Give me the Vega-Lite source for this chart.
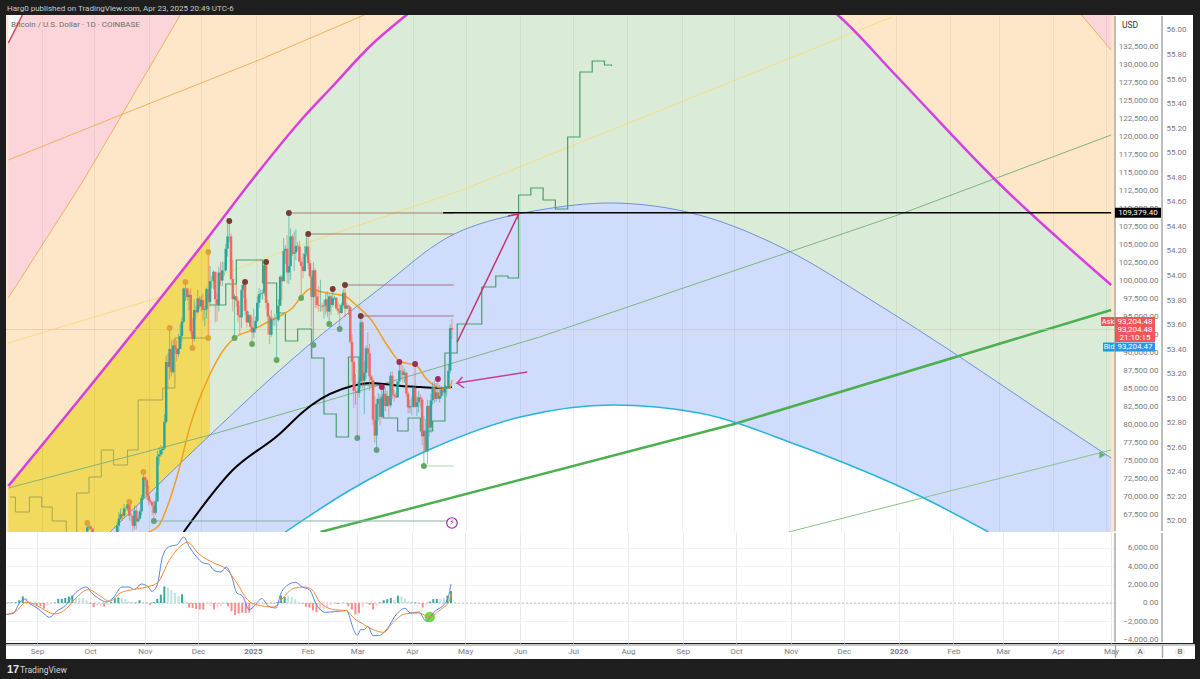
{
"$schema":"https://vega.github.io/schema/vega-lite/v6.json",
"background":"#1e1e1e",
"padding":{"left":5,"right":8,"top":0,"bottom":0},
"spacing":0,
"config":{"view":{"stroke":null},"text":{"font":"Roboto"},"axis":{"labelFont":"Roboto"}},
"datasets":{
"redL":[{"d":"2024-08-13","p":97573},{"d":"2024-09-25","p":113928},{"d":"2024-11-19","p":136797}],
"wedge":[{"d":"2024-08-13","p":132916},{"d":"2024-08-21","p":136797}],
"redR":[{"d":"2026-04-17","p":136797},{"d":"2026-05-04","p":131946}],
"magenta":[{"d":"2024-08-13","p":71516},{"d":"2024-10-07","p":87871},{"d":"2024-12-06","p":106305},{"d":"2024-12-30","p":113928},{"d":"2025-01-28","p":122521},{"d":"2025-02-13","p":126679},{"d":"2025-03-08","p":132639},{"d":"2025-03-28","p":136797},{"d":"2025-04-22","p":141648},{"d":"2025-05-20","p":145390},{"d":"2025-06-23","p":147885},{"d":"2025-07-27","p":148855},{"d":"2025-08-30","p":147885},{"d":"2025-10-03","p":145113},{"d":"2025-10-31","p":141648},{"d":"2025-11-29","p":136797},{"d":"2026-01-01","p":128481},{"d":"2026-02-27","p":113928},{"d":"2026-05-04","p":99375}],
"blue":[{"d":"2024-10-10","p":65140},{"d":"2024-12-06","p":78585},{"d":"2025-01-28","p":90366},{"d":"2025-03-14","p":99097},{"d":"2025-04-20","p":105889},{"d":"2025-05-28","p":109077},{"d":"2025-06-12","p":109770},{"d":"2025-07-22","p":110740},{"d":"2025-09-11","p":109077},{"d":"2025-10-31","p":104226},{"d":"2025-12-18","p":97296},{"d":"2026-02-05","p":89673},{"d":"2026-03-22","p":82327},{"d":"2026-05-04","p":75397}],
"cyan":[{"d":"2025-01-18","p":65140},{"d":"2025-02-24","p":70962},{"d":"2025-04-07","p":76228},{"d":"2025-06-01","p":81080},{"d":"2025-07-24","p":82743},{"d":"2025-09-11","p":81634},{"d":"2025-11-06","p":77199},{"d":"2026-01-16","p":69991},{"d":"2026-02-23","p":65140}],
"yellowZone":[{"d":"2024-08-13","p":71516,"q":65140},{"d":"2024-10-10","p":89118,"q":65140},{"d":"2024-12-06","p":106305,"q":78585}],
"orangeLine":[{"d":"2024-08-13","p":116700},{"d":"2024-10-16","p":122937},{"d":"2025-01-03","p":130560},{"d":"2025-03-04","p":136797}],
"yellowLine":[{"d":"2024-08-13","p":91336},{"d":"2024-11-08","p":97711},{"d":"2025-01-30","p":105196},{"d":"2025-04-29","p":112542},{"d":"2025-12-30","p":136519}],
"greenThin":[{"d":"2024-08-13","p":71239},{"d":"2024-12-06","p":78585},{"d":"2025-01-28","p":82327},{"d":"2025-06-12","p":92167},{"d":"2026-01-04","p":109215},{"d":"2026-05-04","p":120165}],
"greenThick":[{"d":"2025-02-07","p":65140},{"d":"2025-10-01","p":80109},{"d":"2026-05-04","p":95910}],
"greenLow":[{"d":"2025-11-01","p":65140},{"d":"2026-05-04","p":76506}],
"stepA":[{"d":"2024-08-14","p":69991},{"d":"2024-08-17","p":67913},{"d":"2024-08-25","p":69991},{"d":"2024-09-01","p":68605},{"d":"2024-09-07","p":66665},{"d":"2024-09-15","p":64725},{"d":"2024-09-21","p":70546},{"d":"2024-09-28","p":72763},{"d":"2024-10-05","p":76506},{"d":"2024-10-12","p":74427},{"d":"2024-10-20","p":76506},{"d":"2024-10-26","p":83436},{"d":"2024-11-09","p":85099},{"d":"2024-11-16","p":92029},{"d":"2024-12-06","p":92029}],
"stepB":[{"d":"2024-12-06","p":96603},{"d":"2024-12-15","p":99513},{"d":"2024-12-21","p":102840},{"d":"2025-01-05","p":99652},{"d":"2025-01-13","p":95494},{"d":"2025-01-18","p":91613},{"d":"2025-01-25","p":93277},{"d":"2025-02-02","p":89257},{"d":"2025-02-09","p":81495},{"d":"2025-02-16","p":78307},{"d":"2025-02-23","p":89396},{"d":"2025-03-01","p":85515},{"d":"2025-03-15","p":80941},{"d":"2025-03-23","p":79139},{"d":"2025-03-29","p":80941},{"d":"2025-04-05","p":79139},{"d":"2025-04-12","p":80525},{"d":"2025-04-19","p":89950},{"d":"2025-04-26","p":93971},{"d":"2025-05-10","p":99097},{"d":"2025-05-18","p":100622},{"d":"2025-05-25","p":100345},{"d":"2025-05-31","p":111849},{"d":"2025-06-07","p":112819},{"d":"2025-06-14","p":111156},{"d":"2025-06-21","p":109909},{"d":"2025-06-28","p":119887},{"d":"2025-07-05","p":128896},{"d":"2025-07-12","p":130421},{"d":"2025-07-19","p":129867},{"d":"2025-07-23","p":129728}],
"ma1":[{"d":"2024-11-01","p":65140},{"d":"2024-11-07","p":66111},{"d":"2024-11-12","p":68883},{"d":"2024-11-19","p":74427},{"d":"2024-11-24","p":79278},{"d":"2024-12-05","p":86485},{"d":"2024-12-15","p":90781},{"d":"2024-12-20","p":92029},{"d":"2024-12-30","p":93137},{"d":"2025-01-08","p":94246},{"d":"2025-01-16","p":95217},{"d":"2025-01-22","p":96187},{"d":"2025-01-27","p":97711},{"d":"2025-02-01","p":98820},{"d":"2025-02-08","p":98404},{"d":"2025-02-22","p":97711},{"d":"2025-02-26","p":96880},{"d":"2025-03-08","p":94524},{"d":"2025-03-17","p":91059},{"d":"2025-03-24","p":88842},{"d":"2025-04-03","p":88148},{"d":"2025-04-08","p":86485},{"d":"2025-04-17","p":85099},{"d":"2025-04-22","p":85099},{"d":"2025-04-23","p":86208}],
"ma2":[{"d":"2024-11-21","p":65140},{"d":"2024-12-19","p":73734},{"d":"2025-01-14","p":78585},{"d":"2025-01-28","p":81772},{"d":"2025-02-02","p":82743},{"d":"2025-02-25","p":85376},{"d":"2025-03-08","p":85792},{"d":"2025-03-25","p":85376},{"d":"2025-04-05","p":85237},{"d":"2025-04-17","p":85099},{"d":"2025-04-23","p":85237}],
"levels":[{"d":"2025-01-20","e":"2025-04-24","p":109354,"k":"brown"},{"d":"2025-01-31","e":"2025-04-24","p":106443,"k":"brown"},{"d":"2025-02-21","e":"2025-04-24","p":99375,"k":"mauve"},{"d":"2025-03-02","e":"2025-04-24","p":95078,"k":"mauve"},{"d":"2025-04-07","e":"2025-04-24","p":74288,"k":"mint"},{"d":"2024-11-04","e":"2025-04-24","p":66665,"k":"teal"}],
"pivots":[{"d":"2024-09-27","p":66389,"k":"gold"},{"d":"2024-10-21","p":69298,"k":"gold"},{"d":"2024-10-29","p":73456,"k":"gold"},{"d":"2024-11-04","p":66665,"k":"sage"},{"d":"2024-11-13","p":93415,"k":"gold"},{"d":"2024-11-22","p":99790,"k":"gold"},{"d":"2024-11-26","p":90643,"k":"gold"},{"d":"2024-12-05","p":103948,"k":"gold"},{"d":"2024-12-05","p":92029,"k":"gold"},{"d":"2024-12-17","p":108245,"k":"maroon"},{"d":"2024-12-20","p":92029,"k":"green"},{"d":"2024-12-26","p":99790,"k":"maroon"},{"d":"2024-12-30","p":91197,"k":"green"},{"d":"2025-01-07","p":102562,"k":"maroon"},{"d":"2025-01-13","p":88980,"k":"green"},{"d":"2025-01-20","p":109354,"k":"maroon"},{"d":"2025-01-27","p":97573,"k":"green"},{"d":"2025-01-31","p":106443,"k":"maroon"},{"d":"2025-02-03","p":91059,"k":"sage"},{"d":"2025-02-14","p":98820,"k":"maroon"},{"d":"2025-02-12","p":93970,"k":"green"},{"d":"2025-02-18","p":93277,"k":"sage"},{"d":"2025-02-21","p":99375,"k":"maroon"},{"d":"2025-03-02","p":95078,"k":"maroon"},{"d":"2025-02-28","p":78169,"k":"sage"},{"d":"2025-03-11","p":76506,"k":"sage"},{"d":"2025-03-24","p":88703,"k":"rose"},{"d":"2025-04-02","p":88425,"k":"rose"},{"d":"2025-03-14","p":85241,"k":"rose"},{"d":"2025-04-15","p":86347,"k":"rose"},{"d":"2025-04-07","p":74288,"k":"green"}],
"arrows":[{"d":"2025-04-26","p":91474,"g":"a","i":0},{"d":"2025-05-31","p":109215,"g":"a","i":1},{"d":"2025-05-25","p":108938,"g":"a","i":2},{"d":"2025-05-31","p":109215,"g":"a","i":3},{"d":"2025-05-30","p":108522,"g":"a","i":4},{"d":"2025-06-05","p":87316,"g":"b","i":0},{"d":"2025-04-26","p":85792,"g":"b","i":1},{"d":"2025-04-29","p":86624,"g":"b","i":2},{"d":"2025-04-26","p":85792,"g":"b","i":3},{"d":"2025-04-30","p":85099,"g":"b","i":4}],
"candles":[
{"d":"2024-09-27","o":65200,"h":66500,"l":64800,"c":65800},
{"d":"2024-09-28","o":65800,"h":66300,"l":65400,"c":65900},
{"d":"2024-09-29","o":65900,"h":66100,"l":65400,"c":65600},
{"d":"2024-09-30","o":65600,"h":65700,"l":62900,"c":63300},
{"d":"2024-10-11","o":60300,"h":63400,"l":60000,"c":62400},
{"d":"2024-10-12","o":62400,"h":63500,"l":62400,"c":63200},
{"d":"2024-10-13","o":63200,"h":63300,"l":62000,"c":62800},
{"d":"2024-10-14","o":62800,"h":66500,"l":62400,"c":66000},
{"d":"2024-10-15","o":66000,"h":67900,"l":64800,"c":67000},
{"d":"2024-10-16","o":67000,"h":68400,"l":66800,"c":67600},
{"d":"2024-10-17","o":67600,"h":67900,"l":66700,"c":67400},
{"d":"2024-10-18","o":67400,"h":69000,"l":67200,"c":68400},
{"d":"2024-10-19","o":68400,"h":68700,"l":68000,"c":68400},
{"d":"2024-10-20","o":68400,"h":69400,"l":68100,"c":69000},
{"d":"2024-10-21","o":69000,"h":69500,"l":66700,"c":67400},
{"d":"2024-10-22","o":67400,"h":67800,"l":66600,"c":67400},
{"d":"2024-10-23","o":67400,"h":67400,"l":65200,"c":66000},
{"d":"2024-10-24","o":66000,"h":68800,"l":65500,"c":68100},
{"d":"2024-10-25","o":68100,"h":68700,"l":65500,"c":66600},
{"d":"2024-10-26","o":66600,"h":67400,"l":66500,"c":67000},
{"d":"2024-10-27","o":67000,"h":68300,"l":66800,"c":68000},
{"d":"2024-10-28","o":68000,"h":70300,"l":67500,"c":69900},
{"d":"2024-10-29","o":69900,"h":73600,"l":69700,"c":72700},
{"d":"2024-10-30","o":72700,"h":72900,"l":71400,"c":72300},
{"d":"2024-10-31","o":72300,"h":72700,"l":69600,"c":70200},
{"d":"2024-11-01","o":70200,"h":71600,"l":68800,"c":69500},
{"d":"2024-11-02","o":69500,"h":69900,"l":69000,"c":69300},
{"d":"2024-11-03","o":69300,"h":69400,"l":67500,"c":68800},
{"d":"2024-11-04","o":68800,"h":69500,"l":66700,"c":67800},
{"d":"2024-11-05","o":67800,"h":70600,"l":67500,"c":69400},
{"d":"2024-11-06","o":69400,"h":76400,"l":69300,"c":75600},
{"d":"2024-11-07","o":75600,"h":76900,"l":74500,"c":75900},
{"d":"2024-11-08","o":75900,"h":77200,"l":75600,"c":76500},
{"d":"2024-11-09","o":76500,"h":76900,"l":75900,"c":76700},
{"d":"2024-11-10","o":76700,"h":81500,"l":76500,"c":80400},
{"d":"2024-11-11","o":80400,"h":89600,"l":80200,"c":88700},
{"d":"2024-11-12","o":88700,"h":89900,"l":85100,"c":88000},
{"d":"2024-11-13","o":88000,"h":93400,"l":86300,"c":90500},
{"d":"2024-11-14","o":90500,"h":91700,"l":86700,"c":87300},
{"d":"2024-11-15","o":87300,"h":91800,"l":87100,"c":91000},
{"d":"2024-11-16","o":91000,"h":91900,"l":90100,"c":90600},
{"d":"2024-11-17","o":90600,"h":91700,"l":88800,"c":89800},
{"d":"2024-11-18","o":89800,"h":92600,"l":89400,"c":90500},
{"d":"2024-11-19","o":90500,"h":93900,"l":90500,"c":92300},
{"d":"2024-11-20","o":92300,"h":94900,"l":91500,"c":94300},
{"d":"2024-11-21","o":94300,"h":99000,"l":94100,"c":98900},
{"d":"2024-11-22","o":98900,"h":99800,"l":97200,"c":98900},
{"d":"2024-11-23","o":98900,"h":98900,"l":97200,"c":97700},
{"d":"2024-11-24","o":97700,"h":98600,"l":95800,"c":98000},
{"d":"2024-11-25","o":98000,"h":98900,"l":92600,"c":93000},
{"d":"2024-11-26","o":93000,"h":94800,"l":90700,"c":91900},
{"d":"2024-11-27","o":91900,"h":97400,"l":91500,"c":95900},
{"d":"2024-11-28","o":95900,"h":96600,"l":94700,"c":95600},
{"d":"2024-11-29","o":95600,"h":98700,"l":95400,"c":97500},
{"d":"2024-11-30","o":97500,"h":97800,"l":96000,"c":96400},
{"d":"2024-12-01","o":96400,"h":97900,"l":95700,"c":97300},
{"d":"2024-12-02","o":97300,"h":98200,"l":94400,"c":95900},
{"d":"2024-12-03","o":95900,"h":96500,"l":93600,"c":96000},
{"d":"2024-12-04","o":96000,"h":99000,"l":94700,"c":98800},
{"d":"2024-12-05","o":98800,"h":103900,"l":92200,"c":97000},
{"d":"2024-12-06","o":97000,"h":102000,"l":96400,"c":99900},
{"d":"2024-12-07","o":99900,"h":100600,"l":98900,"c":99900},
{"d":"2024-12-08","o":99900,"h":101400,"l":98800,"c":101200},
{"d":"2024-12-09","o":101200,"h":101200,"l":94200,"c":97400},
{"d":"2024-12-10","o":97400,"h":98300,"l":94300,"c":96600},
{"d":"2024-12-11","o":96600,"h":101900,"l":95700,"c":101100},
{"d":"2024-12-12","o":101100,"h":102500,"l":99300,"c":100000},
{"d":"2024-12-13","o":100000,"h":102600,"l":99200,"c":101400},
{"d":"2024-12-14","o":101400,"h":102600,"l":100600,"c":101400},
{"d":"2024-12-15","o":101400,"h":105100,"l":101200,"c":104400},
{"d":"2024-12-16","o":104400,"h":107800,"l":103300,"c":106100},
{"d":"2024-12-17","o":106100,"h":108300,"l":105300,"c":106100},
{"d":"2024-12-18","o":106100,"h":106500,"l":100000,"c":100200},
{"d":"2024-12-19","o":100200,"h":102800,"l":95700,"c":97400},
{"d":"2024-12-20","o":97400,"h":98100,"l":92100,"c":97800},
{"d":"2024-12-21","o":97800,"h":99500,"l":96400,"c":97200},
{"d":"2024-12-22","o":97200,"h":97400,"l":94200,"c":95200},
{"d":"2024-12-23","o":95200,"h":96500,"l":92500,"c":94900},
{"d":"2024-12-24","o":94900,"h":99400,"l":93400,"c":98700},
{"d":"2024-12-25","o":98700,"h":99900,"l":97600,"c":99400},
{"d":"2024-12-26","o":99400,"h":99900,"l":95200,"c":95800},
{"d":"2024-12-27","o":95800,"h":97500,"l":93500,"c":94200},
{"d":"2024-12-28","o":94200,"h":95700,"l":94100,"c":95200},
{"d":"2024-12-29","o":95200,"h":95300,"l":93100,"c":93600},
{"d":"2024-12-30","o":93600,"h":94900,"l":91300,"c":92800},
{"d":"2024-12-31","o":92800,"h":96100,"l":92000,"c":93400},
{"d":"2025-01-01","o":93400,"h":95000,"l":92800,"c":94400},
{"d":"2025-01-02","o":94400,"h":97800,"l":94200,"c":96900},
{"d":"2025-01-03","o":96900,"h":98900,"l":96200,"c":98100},
{"d":"2025-01-04","o":98100,"h":98700,"l":97500,"c":98200},
{"d":"2025-01-05","o":98200,"h":98800,"l":97300,"c":98300},
{"d":"2025-01-06","o":98300,"h":102500,"l":97900,"c":102100},
{"d":"2025-01-07","o":102100,"h":102700,"l":96100,"c":96900},
{"d":"2025-01-08","o":96900,"h":97300,"l":92500,"c":95000},
{"d":"2025-01-09","o":95000,"h":95300,"l":91200,"c":92500},
{"d":"2025-01-10","o":92500,"h":95900,"l":92200,"c":94700},
{"d":"2025-01-11","o":94700,"h":95000,"l":93800,"c":94500},
{"d":"2025-01-12","o":94500,"h":95400,"l":93700,"c":94500},
{"d":"2025-01-13","o":94500,"h":95900,"l":89300,"c":94500},
{"d":"2025-01-14","o":94500,"h":97400,"l":94300,"c":96500},
{"d":"2025-01-15","o":96500,"h":100700,"l":96500,"c":100500},
{"d":"2025-01-16","o":100500,"h":100800,"l":97300,"c":99900},
{"d":"2025-01-17","o":99900,"h":105900,"l":99900,"c":104100},
{"d":"2025-01-18","o":104100,"h":104900,"l":102300,"c":104400},
{"d":"2025-01-19","o":104400,"h":106300,"l":99600,"c":101100},
{"d":"2025-01-20","o":101100,"h":109400,"l":99500,"c":102000},
{"d":"2025-01-21","o":102000,"h":107200,"l":100100,"c":106100},
{"d":"2025-01-22","o":106100,"h":106400,"l":103400,"c":103700},
{"d":"2025-01-23","o":103700,"h":106800,"l":101300,"c":103900},
{"d":"2025-01-24","o":103900,"h":107100,"l":102800,"c":104800},
{"d":"2025-01-25","o":104800,"h":105300,"l":104100,"c":104700},
{"d":"2025-01-26","o":104700,"h":105500,"l":102500,"c":102600},
{"d":"2025-01-27","o":102600,"h":103200,"l":97800,"c":102000},
{"d":"2025-01-28","o":102000,"h":103800,"l":100300,"c":101300},
{"d":"2025-01-29","o":101300,"h":104800,"l":101300,"c":103700},
{"d":"2025-01-30","o":103700,"h":106400,"l":103300,"c":104700},
{"d":"2025-01-31","o":104700,"h":106000,"l":101600,"c":102400},
{"d":"2025-02-01","o":102400,"h":102800,"l":100300,"c":100600},
{"d":"2025-02-02","o":100600,"h":101400,"l":93500,"c":97700},
{"d":"2025-02-03","o":97700,"h":102500,"l":91200,"c":101400},
{"d":"2025-02-04","o":101400,"h":101700,"l":96200,"c":97800},
{"d":"2025-02-05","o":97800,"h":98800,"l":96100,"c":96600},
{"d":"2025-02-06","o":96600,"h":99200,"l":95700,"c":96500},
{"d":"2025-02-07","o":96500,"h":100100,"l":95700,"c":96500},
{"d":"2025-02-08","o":96500,"h":96900,"l":95700,"c":96400},
{"d":"2025-02-09","o":96400,"h":97300,"l":94700,"c":96500},
{"d":"2025-02-10","o":96500,"h":98300,"l":95300,"c":97400},
{"d":"2025-02-11","o":97400,"h":98500,"l":94900,"c":95700},
{"d":"2025-02-12","o":95700,"h":98100,"l":94100,"c":97800},
{"d":"2025-02-13","o":97800,"h":98000,"l":95200,"c":96600},
{"d":"2025-02-14","o":96600,"h":99000,"l":96300,"c":97500},
{"d":"2025-02-15","o":97500,"h":97900,"l":97300,"c":97600},
{"d":"2025-02-16","o":97600,"h":97700,"l":96000,"c":96100},
{"d":"2025-02-17","o":96100,"h":97000,"l":95200,"c":95800},
{"d":"2025-02-18","o":95800,"h":96700,"l":93300,"c":95500},
{"d":"2025-02-19","o":95500,"h":96900,"l":95400,"c":96600},
{"d":"2025-02-20","o":96600,"h":98800,"l":96400,"c":98300},
{"d":"2025-02-21","o":98300,"h":99400,"l":94900,"c":96100},
{"d":"2025-02-22","o":96100,"h":96900,"l":96000,"c":96500},
{"d":"2025-02-23","o":96500,"h":96700,"l":95200,"c":96300},
{"d":"2025-02-24","o":96300,"h":96500,"l":91200,"c":91500},
{"d":"2025-02-25","o":91500,"h":92500,"l":86100,"c":88700},
{"d":"2025-02-26","o":88700,"h":89400,"l":82300,"c":84700},
{"d":"2025-02-27","o":84700,"h":87000,"l":82800,"c":84700},
{"d":"2025-02-28","o":84700,"h":85100,"l":78200,"c":84400},
{"d":"2025-03-01","o":84400,"h":86600,"l":83800,"c":86000},
{"d":"2025-03-02","o":86000,"h":95000,"l":85100,"c":94200},
{"d":"2025-03-03","o":94200,"h":94400,"l":85000,"c":86100},
{"d":"2025-03-04","o":86100,"h":88900,"l":81500,"c":87200},
{"d":"2025-03-05","o":87200,"h":91000,"l":86400,"c":90600},
{"d":"2025-03-06","o":90600,"h":92800,"l":87800,"c":89900},
{"d":"2025-03-07","o":89900,"h":91200,"l":84700,"c":86700},
{"d":"2025-03-08","o":86700,"h":86900,"l":85200,"c":86200},
{"d":"2025-03-09","o":86200,"h":86500,"l":80000,"c":80700},
{"d":"2025-03-10","o":80700,"h":84000,"l":77500,"c":78500},
{"d":"2025-03-11","o":78500,"h":83600,"l":76600,"c":82900},
{"d":"2025-03-12","o":82900,"h":84400,"l":80600,"c":83600},
{"d":"2025-03-13","o":83600,"h":84300,"l":79900,"c":81100},
{"d":"2025-03-14","o":81100,"h":85300,"l":80800,"c":83900},
{"d":"2025-03-15","o":83900,"h":84700,"l":83600,"c":84300},
{"d":"2025-03-16","o":84300,"h":85100,"l":81900,"c":82600},
{"d":"2025-03-17","o":82600,"h":84700,"l":82500,"c":84000},
{"d":"2025-03-18","o":84000,"h":84000,"l":81100,"c":82700},
{"d":"2025-03-19","o":82700,"h":87400,"l":82400,"c":86800},
{"d":"2025-03-20","o":86800,"h":87400,"l":83600,"c":84200},
{"d":"2025-03-21","o":84200,"h":84800,"l":83200,"c":84000},
{"d":"2025-03-22","o":84000,"h":84500,"l":83700,"c":83800},
{"d":"2025-03-23","o":83800,"h":86000,"l":83800,"c":86000},
{"d":"2025-03-24","o":86000,"h":88700,"l":85600,"c":87500},
{"d":"2025-03-25","o":87500,"h":88500,"l":86300,"c":87400},
{"d":"2025-03-26","o":87400,"h":88200,"l":85900,"c":86900},
{"d":"2025-03-27","o":86900,"h":87800,"l":85800,"c":87200},
{"d":"2025-03-28","o":87200,"h":87400,"l":83900,"c":84300},
{"d":"2025-03-29","o":84300,"h":84600,"l":81600,"c":82400},
{"d":"2025-03-30","o":82400,"h":83500,"l":81600,"c":82600},
{"d":"2025-03-31","o":82600,"h":83900,"l":81300,"c":82500},
{"d":"2025-04-01","o":82500,"h":85500,"l":82400,"c":85100},
{"d":"2025-04-02","o":85100,"h":88500,"l":82300,"c":82500},
{"d":"2025-04-03","o":82500,"h":83900,"l":81200,"c":83100},
{"d":"2025-04-04","o":83100,"h":84700,"l":81700,"c":83800},
{"d":"2025-04-05","o":83800,"h":84200,"l":82400,"c":83500},
{"d":"2025-04-06","o":83500,"h":83800,"l":77200,"c":78400},
{"d":"2025-04-07","o":78400,"h":81200,"l":74400,"c":79100},
{"d":"2025-04-08","o":79100,"h":80800,"l":76200,"c":76300},
{"d":"2025-04-09","o":76300,"h":83500,"l":74600,"c":82600},
{"d":"2025-04-10","o":82600,"h":82700,"l":78400,"c":79600},
{"d":"2025-04-11","o":79600,"h":84300,"l":78900,"c":83400},
{"d":"2025-04-12","o":83400,"h":85900,"l":82800,"c":85200},
{"d":"2025-04-13","o":85200,"h":86100,"l":83000,"c":83600},
{"d":"2025-04-14","o":83600,"h":85800,"l":83200,"c":84500},
{"d":"2025-04-15","o":84500,"h":86500,"l":83600,"c":83600},
{"d":"2025-04-16","o":83600,"h":85500,"l":83100,"c":84000},
{"d":"2025-04-17","o":84000,"h":85400,"l":83700,"c":84900},
{"d":"2025-04-18","o":84900,"h":85100,"l":84100,"c":84500},
{"d":"2025-04-19","o":84500,"h":85700,"l":84400,"c":85100},
{"d":"2025-04-20","o":85100,"h":85300,"l":83900,"c":85200},
{"d":"2025-04-21","o":85200,"h":88500,"l":85100,"c":87500},
{"d":"2025-04-22","o":87500,"h":93900,"l":87100,"c":93400},
{"d":"2025-04-23","o":93400,"h":94700,"l":91900,"c":93200}
],
"hist":[
{"d":"2024-08-16","v":50,"k":"a"},{"d":"2024-08-18","v":50,"k":"a"},{"d":"2024-08-20","v":70,"k":"a"},{"d":"2024-08-22","v":300,"k":"a"},{"d":"2024-08-24","v":720,"k":"a"},{"d":"2024-08-26","v":500,"k":"b"},{"d":"2024-08-28","v":150,"k":"b"},{"d":"2024-08-30","v":-100,"k":"c"},{"d":"2024-09-01","v":-250,"k":"c"},{"d":"2024-09-03","v":-350,"k":"c"},{"d":"2024-09-05","v":-600,"k":"c"},{"d":"2024-09-07","v":-300,"k":"d"},{"d":"2024-09-09","v":-50,"k":"d"},{"d":"2024-09-11","v":50,"k":"a"},{"d":"2024-09-13","v":450,"k":"a"},{"d":"2024-09-15","v":450,"k":"a"},{"d":"2024-09-17","v":550,"k":"a"},{"d":"2024-09-19","v":700,"k":"a"},{"d":"2024-09-21","v":800,"k":"a"},{"d":"2024-09-23","v":550,"k":"b"},{"d":"2024-09-25","v":550,"k":"b"},{"d":"2024-09-27","v":520,"k":"b"},{"d":"2024-09-29","v":300,"k":"b"},{"d":"2024-10-01","v":-100,"k":"c"},{"d":"2024-10-03","v":-450,"k":"c"},{"d":"2024-10-05","v":-250,"k":"d"},{"d":"2024-10-07","v":-250,"k":"d"},{"d":"2024-10-09","v":-400,"k":"c"},{"d":"2024-10-11","v":-200,"k":"d"},{"d":"2024-10-13","v":100,"k":"a"},{"d":"2024-10-15","v":500,"k":"a"},{"d":"2024-10-17","v":600,"k":"a"},{"d":"2024-10-19","v":550,"k":"b"},{"d":"2024-10-21","v":450,"k":"b"},{"d":"2024-10-23","v":150,"k":"b"},{"d":"2024-10-25","v":40,"k":"a"},{"d":"2024-10-27","v":50,"k":"a"},{"d":"2024-10-29","v":300,"k":"a"},{"d":"2024-10-31","v":80,"k":"b"},{"d":"2024-11-02","v":-50,"k":"c"},{"d":"2024-11-04","v":-200,"k":"c"},{"d":"2024-11-06","v":100,"k":"a"},{"d":"2024-11-08","v":450,"k":"a"},{"d":"2024-11-10","v":900,"k":"a"},{"d":"2024-11-12","v":1800,"k":"a"},{"d":"2024-11-14","v":1700,"k":"b"},{"d":"2024-11-16","v":1400,"k":"b"},{"d":"2024-11-18","v":1100,"k":"b"},{"d":"2024-11-20","v":800,"k":"b"},{"d":"2024-11-22","v":950,"k":"a"},{"d":"2024-11-24","v":200,"k":"b"},{"d":"2024-11-26","v":-500,"k":"c"},{"d":"2024-11-28","v":-550,"k":"c"},{"d":"2024-11-30","v":-650,"k":"c"},{"d":"2024-12-02","v":-700,"k":"c"},{"d":"2024-12-04","v":-700,"k":"c"},{"d":"2024-12-06","v":-150,"k":"d"},{"d":"2024-12-08","v":-300,"k":"d"},{"d":"2024-12-10","v":-700,"k":"c"},{"d":"2024-12-12","v":-450,"k":"d"},{"d":"2024-12-14","v":-350,"k":"d"},{"d":"2024-12-16","v":-100,"k":"d"},{"d":"2024-12-18","v":-350,"k":"c"},{"d":"2024-12-20","v":-900,"k":"c"},{"d":"2024-12-22","v":-1300,"k":"c"},{"d":"2024-12-24","v":-1150,"k":"c"},{"d":"2024-12-26","v":-1050,"k":"c"},{"d":"2024-12-28","v":-1100,"k":"c"},{"d":"2024-12-30","v":-1050,"k":"c"},{"d":"2025-01-01","v":-700,"k":"d"},{"d":"2025-01-03","v":-400,"k":"d"},{"d":"2025-01-05","v":-100,"k":"d"},{"d":"2025-01-07","v":-50,"k":"d"},{"d":"2025-01-09","v":-60,"k":"c"},{"d":"2025-01-11","v":-60,"k":"c"},{"d":"2025-01-13","v":-80,"k":"c"},{"d":"2025-01-15","v":100,"k":"a"},{"d":"2025-01-17","v":800,"k":"a"},{"d":"2025-01-19","v":650,"k":"a"},{"d":"2025-01-21","v":800,"k":"b"},{"d":"2025-01-23","v":650,"k":"b"},{"d":"2025-01-25","v":400,"k":"b"},{"d":"2025-01-27","v":100,"k":"b"},{"d":"2025-01-29","v":-50,"k":"c"},{"d":"2025-01-31","v":-400,"k":"c"},{"d":"2025-02-02","v":-500,"k":"c"},{"d":"2025-02-04","v":-800,"k":"c"},{"d":"2025-02-06","v":-1000,"k":"c"},{"d":"2025-02-08","v":-750,"k":"d"},{"d":"2025-02-10","v":-650,"k":"d"},{"d":"2025-02-12","v":-450,"k":"d"},{"d":"2025-02-14","v":-200,"k":"d"},{"d":"2025-02-16","v":-120,"k":"d"},{"d":"2025-02-18","v":-120,"k":"c"},{"d":"2025-02-20","v":-50,"k":"d"},{"d":"2025-02-22","v":-100,"k":"d"},{"d":"2025-02-24","v":-350,"k":"c"},{"d":"2025-02-26","v":-700,"k":"c"},{"d":"2025-02-28","v":-1250,"k":"c"},{"d":"2025-03-02","v":-1100,"k":"c"},{"d":"2025-03-04","v":-450,"k":"d"},{"d":"2025-03-06","v":-100,"k":"d"},{"d":"2025-03-08","v":-200,"k":"c"},{"d":"2025-03-10","v":-700,"k":"c"},{"d":"2025-03-12","v":-350,"k":"d"},{"d":"2025-03-14","v":60,"k":"a"},{"d":"2025-03-16","v":300,"k":"a"},{"d":"2025-03-18","v":420,"k":"a"},{"d":"2025-03-20","v":550,"k":"a"},{"d":"2025-03-22","v":350,"k":"b"},{"d":"2025-03-24","v":800,"k":"a"},{"d":"2025-03-26","v":700,"k":"b"},{"d":"2025-03-28","v":500,"k":"b"},{"d":"2025-03-30","v":200,"k":"b"},{"d":"2025-04-01","v":50,"k":"a"},{"d":"2025-04-03","v":60,"k":"a"},{"d":"2025-04-05","v":-60,"k":"c"},{"d":"2025-04-07","v":-500,"k":"c"},{"d":"2025-04-09","v":-250,"k":"d"},{"d":"2025-04-11","v":150,"k":"a"},{"d":"2025-04-13","v":430,"k":"a"},{"d":"2025-04-15","v":450,"k":"a"},{"d":"2025-04-17","v":400,"k":"b"},{"d":"2025-04-19","v":500,"k":"b"},{"d":"2025-04-21","v":800,"k":"a"},{"d":"2025-04-23","v":1300,"k":"a"}
],
"macd":[{"d":"2024-08-14","v":-1267},{"d":"2024-08-19","v":-1086},{"d":"2024-08-21","v":-362},{"d":"2024-08-25","v":434},{"d":"2024-08-28","v":-72},{"d":"2024-09-01","v":-543},{"d":"2024-09-05","v":-1158},{"d":"2024-09-08","v":-1557},{"d":"2024-09-12","v":-905},{"d":"2024-09-17","v":-290},{"d":"2024-09-21","v":724},{"d":"2024-09-25","v":1448},{"d":"2024-09-29","v":1738},{"d":"2024-10-02","v":1086},{"d":"2024-10-07","v":362},{"d":"2024-10-10","v":109},{"d":"2024-10-14","v":543},{"d":"2024-10-19","v":1738},{"d":"2024-10-23","v":1738},{"d":"2024-10-26","v":1448},{"d":"2024-10-30","v":2063},{"d":"2024-11-03","v":1738},{"d":"2024-11-05","v":1267},{"d":"2024-11-08","v":1991},{"d":"2024-11-11","v":5068},{"d":"2024-11-15","v":6154},{"d":"2024-11-19","v":6299},{"d":"2024-11-23","v":7168},{"d":"2024-11-26","v":6154},{"d":"2024-11-30","v":5068},{"d":"2024-12-04","v":4344},{"d":"2024-12-07","v":4235},{"d":"2024-12-10","v":3548},{"d":"2024-12-14","v":3367},{"d":"2024-12-17","v":3910},{"d":"2024-12-20","v":2896},{"d":"2024-12-23","v":1086},{"d":"2024-12-26","v":796},{"d":"2024-12-30","v":-724},{"d":"2025-01-02","v":-290},{"d":"2025-01-06","v":471},{"d":"2025-01-10","v":-362},{"d":"2025-01-14","v":-543},{"d":"2025-01-17","v":1086},{"d":"2025-01-21","v":1991},{"d":"2025-01-25","v":2244},{"d":"2025-01-29","v":1738},{"d":"2025-02-02","v":1448},{"d":"2025-02-06","v":-181},{"d":"2025-02-11","v":-1014},{"d":"2025-02-16","v":-941},{"d":"2025-02-23","v":-833},{"d":"2025-02-27","v":-2896},{"d":"2025-03-01","v":-3511},{"d":"2025-03-03","v":-2896},{"d":"2025-03-05","v":-2896},{"d":"2025-03-07","v":-2534},{"d":"2025-03-10","v":-3548},{"d":"2025-03-13","v":-3548},{"d":"2025-03-18","v":-2787},{"d":"2025-03-23","v":-1267},{"d":"2025-03-28","v":-579},{"d":"2025-03-31","v":-1086},{"d":"2025-04-05","v":-977},{"d":"2025-04-09","v":-1991},{"d":"2025-04-13","v":-1086},{"d":"2025-04-21","v":362},{"d":"2025-04-23","v":2063}],
"signal":[{"d":"2024-08-14","v":-1267},{"d":"2024-08-20","v":-905},{"d":"2024-08-26","v":72},{"d":"2024-09-01","v":-290},{"d":"2024-09-06","v":-833},{"d":"2024-09-11","v":-1195},{"d":"2024-09-17","v":-724},{"d":"2024-09-23","v":543},{"d":"2024-09-30","v":1448},{"d":"2024-10-07","v":724},{"d":"2024-10-12","v":181},{"d":"2024-10-18","v":1086},{"d":"2024-10-25","v":1448},{"d":"2024-11-02","v":1738},{"d":"2024-11-08","v":2172},{"d":"2024-11-15","v":4706},{"d":"2024-11-21","v":6154},{"d":"2024-11-25","v":6588},{"d":"2024-12-02","v":5249},{"d":"2024-12-10","v":4344},{"d":"2024-12-17","v":3692},{"d":"2024-12-23","v":2172},{"d":"2024-12-29","v":362},{"d":"2025-01-03","v":-181},{"d":"2025-01-13","v":-434},{"d":"2025-01-18","v":543},{"d":"2025-01-24","v":1593},{"d":"2025-01-30","v":1738},{"d":"2025-02-03","v":1520},{"d":"2025-02-08","v":72},{"d":"2025-02-16","v":-724},{"d":"2025-02-23","v":-833},{"d":"2025-02-27","v":-1629},{"d":"2025-03-05","v":-2353},{"d":"2025-03-10","v":-2896},{"d":"2025-03-16","v":-3186},{"d":"2025-03-21","v":-2172},{"d":"2025-03-28","v":-1195},{"d":"2025-04-05","v":-1086},{"d":"2025-04-11","v":-1520},{"d":"2025-04-17","v":-724},{"d":"2025-04-22","v":181},{"d":"2025-04-23","v":1014}]
},
"vconcat":[
{"width":1189,"height":15,"data":{"values":[{"t":"Harg0 published on TradingView.com, Apr 23, 2025 20:49 UTC-6"}]},"mark":{"type":"text","align":"left","baseline":"middle","fontSize":8,"color":"#c9c9c9"},"encoding":{"x":{"value":1},"y":{"value":9},"text":{"field":"t"}}},
{"hconcat":[
{"width":1109,"height":517,"view":{"fill":"#fde7c8"},
"resolve":{"scale":{"color":"independent"}},
"encoding":{
"x":{"field":"d","type":"temporal","scale":{"type":"utc","domain":["2024-08-14T12:00:00Z","2026-05-03T08:00:00Z"]},"axis":{"title":null,"labels":false,"ticks":false,"domain":false,"grid":true,"gridColor":"#000000","gridOpacity":0.05,"tickCount":{"interval":"month","step":1},"zindex":1}},
"y":{"field":"p","type":"quantitative","scale":{"domain":[65140,136797]},"axis":{"title":null,"labels":false,"ticks":false,"domain":false,"grid":true,"gridColor":"#000000","gridOpacity":0.05,"values":[67500,70000,72500,75000,77500,80000,82500,85000,87500,90000,92500,95000,97500,100000,102500,105000,107500,110000,112500,115000,117500,120000,122500,125000,127500,130000,132500,135000],"zindex":1}}
},
"layer":[
{"data":{"name":"redL"},"mark":{"type":"area","clip":true,"color":"#fbd5da"},"encoding":{"y2":{"datum":136797}}},
{"data":{"name":"wedge"},"mark":{"type":"area","clip":true,"color":"#ffffff"},"encoding":{"y2":{"datum":136797}}},
{"data":{"name":"redR"},"mark":{"type":"area","clip":true,"color":"#fbd5da"},"encoding":{"y2":{"datum":136797}}},
{"data":{"name":"magenta"},"mark":{"type":"area","clip":true,"color":"#daecd8","interpolate":"monotone"},"encoding":{"y2":{"datum":65140}}},
{"data":{"name":"blue"},"mark":{"type":"area","clip":true,"color":"#cfdcfb","interpolate":"monotone"},"encoding":{"y2":{"datum":65140}}},
{"data":{"name":"cyan"},"mark":{"type":"area","clip":true,"color":"#ffffff","interpolate":"monotone"},"encoding":{"y2":{"datum":65140}}},
{"data":{"name":"redL"},"mark":{"type":"line","clip":true,"color":"#f0b060","strokeWidth":1}},
{"data":{"name":"redR"},"mark":{"type":"line","clip":true,"color":"#f0b060","strokeWidth":1}},
{"data":{"name":"wedge"},"mark":{"type":"line","clip":true,"color":"#d9435f","strokeWidth":1.5}},
{"data":{"name":"orangeLine"},"mark":{"type":"line","clip":true,"color":"#f0b060","strokeWidth":1}},
{"data":{"name":"yellowLine"},"mark":{"type":"line","clip":true,"color":"#f5dc85","strokeWidth":1}},
{"data":{"name":"yellowZone"},"mark":{"type":"area","clip":true,"color":"#f2da5e"},"encoding":{"y2":{"field":"q"}}},
{"data":{"name":"greenThin"},"mark":{"type":"line","clip":true,"color":"#7fb57f","strokeWidth":1}},
{"data":{"name":"greenThick"},"mark":{"type":"line","clip":true,"color":"#4caf50","strokeWidth":2.5}},
{"data":{"name":"greenLow"},"mark":{"type":"line","clip":true,"color":"#8bc48b","strokeWidth":1}},
{"data":{"values":[{"d":"2026-04-29","p":75800}]},"mark":{"type":"point","shape":"triangle-right","filled":true,"opacity":1,"size":50,"color":"#66b36a"}},
{"data":{"name":"magenta"},"mark":{"type":"line","clip":true,"color":"#d63fe0","strokeWidth":2.5,"interpolate":"monotone"}},
{"data":{"name":"blue"},"mark":{"type":"line","clip":true,"color":"#6f90dd","strokeWidth":1,"interpolate":"monotone"}},
{"data":{"name":"cyan"},"mark":{"type":"line","clip":true,"color":"#25b5d6","strokeWidth":1.5,"interpolate":"monotone"}},
{"data":{"values":[{"p":93204}]},"mark":{"type":"rule","color":"#e9b8a0","opacity":0.6,"strokeWidth":1},"encoding":{"x":{"value":0},"x2":{"value":1109}}},
{"data":{"name":"stepA"},"mark":{"type":"line","clip":true,"color":"#a9a552","strokeWidth":1,"interpolate":"step-after"}},
{"data":{"name":"stepB"},"mark":{"type":"line","clip":true,"color":"#4a9e6a","strokeWidth":1.2,"interpolate":"step-after"}},
{"data":{"name":"ma2"},"mark":{"type":"line","clip":true,"color":"#000000","strokeWidth":2,"interpolate":"monotone"}},
{"data":{"name":"ma1"},"mark":{"type":"line","clip":true,"color":"#f0a020","strokeWidth":1.5,"interpolate":"monotone"}},
{"data":{"name":"candles"},"mark":{"type":"rule","clip":true,"strokeWidth":1,"opacity":0.6},"encoding":{"y":{"field":"l","type":"quantitative","axis":null},"y2":{"field":"h"},"color":{"condition":{"test":"datum.c<datum.o","value":"#ef6a5e"},"value":"#2aa79b"}}},
{"data":{"name":"candles"},"mark":{"type":"bar","clip":true,"size":2.5},"encoding":{"y":{"field":"o","type":"quantitative","axis":null},"y2":{"field":"c"},"color":{"condition":{"test":"datum.c<datum.o","value":"#ef6a5e"},"value":"#2aa79b"}}},
{"data":{"name":"levels"},"mark":{"type":"rule","strokeWidth":1},"encoding":{"x2":{"field":"e"},"color":{"field":"k","type":"nominal","legend":null,"scale":{"domain":["brown","mauve","mint","teal"],"range":["#a87a6e","#a5728f","#a9d6ae","#8ab2a8"]}}}},
{"data":{"values":[{"d":"2025-04-18","p":109379.4},{"d":"2026-05-04","p":109379.4}]},"mark":{"type":"line","clip":true,"color":"#000000","strokeWidth":1.5}},
{"data":{"name":"pivots"},"mark":{"type":"circle","size":34,"opacity":1},"encoding":{"color":{"field":"k","type":"nominal","legend":null,"scale":{"domain":["gold","sage","maroon","green","rose"],"range":["#d9a53a","#66a07e","#7a3b30","#66a85c","#a02c5a"]}}}},
{"data":{"name":"arrows"},"mark":{"type":"line","strokeWidth":1.5},"encoding":{"detail":{"field":"g"},"order":{"field":"i"},"color":{"field":"g","type":"nominal","legend":null,"scale":{"domain":["a","b"],"range":["#c2356b","#c8408f"]}}}},
{"data":{"values":[{"d":"2025-04-23","p":66389}]},"mark":{"type":"point","filled":true,"fill":"#ffffff","stroke":"#9c27b0","strokeWidth":1.2,"opacity":1,"size":110}},
{"data":{"values":[{"d":"2025-04-23","p":66389,"t":"⚡"}]},"mark":{"type":"text","font":"DejaVu Sans","fontSize":8,"color":"#9c27b0"},"encoding":{"text":{"field":"t"}}},
{"data":{"values":[{"t":"Bitcoin / U.S. Dollar · 1D · COINBASE"}]},"mark":{"type":"text","align":"left","fontSize":8,"color":"#6e6e6e"},"encoding":{"x":{"value":5},"y":{"value":10},"text":{"field":"t"}}},
{"data":{"values":[{"p":93204}]},"mark":{"type":"rule","color":"#f0565a","strokeWidth":9,"yOffset":-8},"encoding":{"x":{"value":1095},"x2":{"value":1109}}},
{"data":{"values":[{"p":93204}]},"mark":{"type":"rule","color":"#2196f3","strokeWidth":9,"yOffset":17.5},"encoding":{"x":{"value":1097},"x2":{"value":1109}}},
{"data":{"values":[{"p":93204,"t":"Ask"}]},"mark":{"type":"text","fontSize":7.5,"color":"#ffffff","dy":-8},"encoding":{"x":{"value":1102},"text":{"field":"t"}}},
{"data":{"values":[{"p":93204,"t":"Bid"}]},"mark":{"type":"text","fontSize":7.5,"color":"#ffffff","dy":17.5},"encoding":{"x":{"value":1103},"text":{"field":"t"}}}
]},
{"width":47,"height":517,"view":{"fill":"#ffffff"},
"encoding":{"y":{"field":"p","type":"quantitative","scale":{"domain":[65140,136797]},"axis":{"orient":"left","offset":-45,"title":null,"ticks":false,"domain":false,"grid":false,"labelPadding":2,"labelColor":"#787b86","labelFontSize":8,"format":",.2f","values":[67500,70000,72500,75000,77500,80000,82500,85000,87500,90000,92500,95000,97500,100000,102500,105000,107500,110000,112500,115000,117500,120000,122500,125000,127500,130000,132500]}}},
"layer":[
{"data":{"values":[{"a":1}]},"mark":{"type":"rule","color":"#a9a9a9","strokeWidth":1.5},"encoding":{"x":{"value":0},"y":{"value":1},"y2":{"value":516}}},
{"data":{"values":[{"t":"USD"}]},"mark":{"type":"text","fontSize":8.5,"color":"#333333"},"encoding":{"x":{"value":15},"y":{"value":10},"text":{"field":"t"}}},
{"data":{"values":[{"p":109379.4}]},"mark":{"type":"rule","color":"#000000","strokeWidth":10},"encoding":{"x":{"value":0},"x2":{"value":46}}},
{"data":{"values":[{"p":109379.4,"t":"109,379.40"}]},"mark":{"type":"text","fontSize":8,"color":"#ffffff"},"encoding":{"x":{"value":23},"text":{"field":"t"}}},
{"data":{"values":[{"p":93204}]},"mark":{"type":"rule","color":"#f0565a","strokeWidth":25},"encoding":{"x":{"value":0},"x2":{"value":40}}},
{"data":{"values":[{"p":93204}]},"mark":{"type":"rule","color":"#2196f3","strokeWidth":9,"yOffset":17.5},"encoding":{"x":{"value":0},"x2":{"value":40}}},
{"data":{"values":[{"p":93204,"t":"93,204.48"}]},"mark":{"type":"text","fontSize":8,"color":"#ffffff","dy":-8},"encoding":{"x":{"value":20},"text":{"field":"t"}}},
{"data":{"values":[{"p":93204,"t":"93,204.48"}]},"mark":{"type":"text","fontSize":8,"color":"#ffffff","dy":0},"encoding":{"x":{"value":20},"text":{"field":"t"}}},
{"data":{"values":[{"p":93204,"t":"21:10:15"}]},"mark":{"type":"text","fontSize":8,"color":"#ffffff","dy":8},"encoding":{"x":{"value":20},"text":{"field":"t"}}},
{"data":{"values":[{"p":93204,"t":"93,204.47"}]},"mark":{"type":"text","fontSize":8,"color":"#ffffff","dy":17.5},"encoding":{"x":{"value":20},"text":{"field":"t"}}}
]},
{"width":31,"height":517,"view":{"fill":"#ffffff"},
"data":{"values":[{"p":54}]},
"layer":[
{"mark":{"type":"rule","color":"#a9a9a9","strokeWidth":1.5},"encoding":{"x":{"value":0},"y":{"value":1},"y2":{"value":516}}},
{"mark":{"type":"point","opacity":0},"encoding":{"y":{"field":"p","type":"quantitative","scale":{"domain":[51.91,56.122]},"axis":{"orient":"left","offset":-26,"title":null,"ticks":false,"domain":false,"grid":false,"labelPadding":2,"labelColor":"#787b86","labelFontSize":8,"format":".2f","values":[52,52.2,52.4,52.6,52.8,53,53.2,53.4,53.6,53.8,54,54.2,54.4,54.6,54.8,55,55.2,55.4,55.6,55.8,56]}}}}
]}
],"spacing":0,"bounds":"flush"},
{"hconcat":[
{"width":1109,"height":111,"view":{"fill":"#ffffff"},
"encoding":{
"x":{"field":"d","type":"temporal","scale":{"type":"utc","domain":["2024-08-14T12:00:00Z","2026-05-03T08:00:00Z"]},"axis":{"title":null,"labels":false,"ticks":false,"domain":false,"grid":true,"gridColor":"#e6ebf2","tickCount":{"interval":"month","step":1}}},
"y":{"field":"v","type":"quantitative","scale":{"domain":[-4348,7717]},"axis":{"title":null,"labels":false,"ticks":false,"domain":false,"grid":true,"gridColor":"#eef1f6","values":[-4000,-2000,0,2000,4000,6000]}}
},
"layer":[
{"data":{"values":[{"v":0}]},"mark":{"type":"rule","color":"#bdbdbd","strokeDash":[2,2],"strokeWidth":1},"encoding":{"x":{"value":0},"x2":{"value":1109}}},
{"data":{"name":"hist"},"mark":{"type":"rule","strokeWidth":2},"encoding":{"y2":{"datum":0},"color":{"field":"k","type":"nominal","legend":null,"scale":{"domain":["a","b","c","d"],"range":["#3aa89c","#bfe3df","#fb8a8f","#fcd2d6"]}}}},
{"data":{"values":[{"d":"2025-04-11","v":-1520}]},"mark":{"type":"point","filled":true,"opacity":1,"size":110,"color":"#74d94a"}},
{"data":{"name":"macd"},"mark":{"type":"line","clip":true,"color":"#5b83e6","strokeWidth":1,"interpolate":"monotone"}},
{"data":{"name":"signal"},"mark":{"type":"line","clip":true,"color":"#f08a3c","strokeWidth":1,"interpolate":"monotone"}}
]},
{"width":47,"height":111,"view":{"fill":"#ffffff"},
"data":{"values":[{"v":0}]},
"layer":[
{"mark":{"type":"rule","color":"#a9a9a9","strokeWidth":1.5},"encoding":{"x":{"value":0},"y":{"value":1},"y2":{"value":110}}},
{"mark":{"type":"point","opacity":0},"encoding":{"y":{"field":"v","type":"quantitative","scale":{"domain":[-4348,7717]},"axis":{"orient":"left","offset":-45,"title":null,"ticks":false,"domain":false,"grid":false,"labelPadding":2,"labelColor":"#787b86","labelFontSize":8,"format":",.2f","values":[-4000,-2000,0,2000,4000,6000]}}}}
]},
{"width":31,"height":111,"view":{"fill":"#ffffff"},"data":{"values":[{"a":1}]},"mark":{"type":"rule","color":"#a9a9a9","strokeWidth":1.5},"encoding":{"x":{"value":0},"y":{"value":1},"y2":{"value":110}}}
],"spacing":0,"bounds":"flush"},
{"width":1189,"height":15,"view":{"fill":"#ffffff"},
"layer":[
{"data":{"values":[{"d":"2024-09-01"}]},"mark":{"type":"point","opacity":0},"encoding":{"x":{"field":"d","type":"temporal","scale":{"type":"utc","domain":["2024-08-14T12:00:00Z","2026-06-17T12:00:00Z"]},"axis":{"orient":"bottom","offset":-15,"title":null,"ticks":false,"domain":false,"grid":false,"labelPadding":3,"labelColor":"#787b86","labelFontSize":8,"tickCount":{"interval":"month","step":1},"labelExpr":"datum.value>datetime(2026,4,15) ? '' : utcmonth(datum.value)==0 ? utcFormat(datum.value,'%Y') : utcFormat(datum.value,'%b')","labelFontWeight":{"condition":{"test":"utcmonth(datum.value)==0","value":"bold"},"value":"normal"}}}}},
{"data":{"values":[{"a":1}]},"mark":{"type":"rule","color":"#b5b5b5","strokeWidth":1.5},"encoding":{"x":{"value":0},"x2":{"value":1189},"y":{"value":1}}},
{"data":{"values":[{"a":1}]},"mark":{"type":"rule","color":"#a9a9a9","strokeWidth":1.5},"encoding":{"x":{"value":1109.5},"y":{"value":1},"y2":{"value":14}}},
{"data":{"values":[{"a":1}]},"mark":{"type":"rule","color":"#a9a9a9","strokeWidth":1.5},"encoding":{"x":{"value":1156.5},"y":{"value":1},"y2":{"value":14}}},
{"data":{"values":[{"t":"A"}]},"mark":{"type":"circle","size":110,"opacity":1,"color":"#f1f1f1"},"encoding":{"x":{"value":1134},"y":{"value":8}}},
{"data":{"values":[{"t":"B"}]},"mark":{"type":"circle","size":110,"opacity":1,"color":"#f1f1f1"},"encoding":{"x":{"value":1174},"y":{"value":8}}},
{"data":{"values":[{"t":"A"}]},"mark":{"type":"text","fontSize":8,"color":"#555555"},"encoding":{"x":{"value":1134},"y":{"value":8},"text":{"field":"t"}}},
{"data":{"values":[{"t":"B"}]},"mark":{"type":"text","fontSize":8,"color":"#555555"},"encoding":{"x":{"value":1174},"y":{"value":8},"text":{"field":"t"}}}
]},
{"width":1189,"height":26,
"layer":[
{"data":{"values":[{"t":"17"}]},"mark":{"type":"text","align":"left","font":"Liberation Sans","fontWeight":"bold","fontSize":11,"color":"#e6e6e6"},"encoding":{"x":{"value":1},"y":{"value":11},"text":{"field":"t"}}},
{"data":{"values":[{"t":"TradingView"}]},"mark":{"type":"text","align":"left","fontSize":8.5,"color":"#d6d6d6"},"encoding":{"x":{"value":14},"y":{"value":11},"text":{"field":"t"}}}
]}
]
}
